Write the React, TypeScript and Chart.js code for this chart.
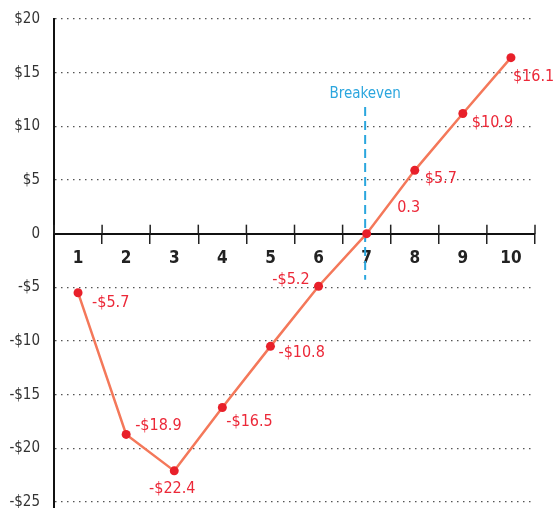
import React, { useEffect, useRef } from "react";
import { Chart, registerables } from "chart.js";

Chart.register(...registerables);

const categories = ["1", "2", "3", "4", "5", "6", "7", "8", "9", "10"];
const values = [-5.5, -18.7, -22.1, -16.2, -10.5, -4.9, 0, 5.9, 11.2, 16.4];
const pointLabels = ["-$5.7", "-$18.9", "-$22.4", "-$16.5", "-$10.8", "-$5.2", "0.3", "$5.7", "$10.9", "$16.1"];
const yTicks = [20, 15, 10, 5, 0, -5, -10, -15, -20, -25];
const breakevenCategory = 6; // index of "7"
const breakevenRange = [-4.3, 11.8];
const breakevenText = "Breakeven";

// label placement relative to each point: [dx, dy, align]
const labelPlacement: [number, number, CanvasTextAlign][] = [
  [14, 10, "left"],
  [9, -9, "left"],
  [-2, 18, "center"],
  [4, 14, "left"],
  [8, 6, "left"],
  [-9, -6, "right"],
  [42, -26, "center"],
  [10, 9, "left"],
  [9, 9, "left"],
  [2, 19, "left"],
];

const FONT = "'Liberation Sans Narrow', 'DejaVu Sans Condensed', 'Roboto', sans-serif";

const fmt = (v: number) => (v === 0 ? "0" : v < 0 ? "-$" + Math.abs(v) : "$" + v);

const overlay = {
  id: "overlay",
  beforeDatasetsDraw(chart: any) {
    const { ctx, scales } = chart;
    const x = scales.x.getPixelForValue(breakevenCategory) - 1.5;
    const y1 = scales.y.getPixelForValue(breakevenRange[1]);
    const y2 = scales.y.getPixelForValue(breakevenRange[0]);
    ctx.save();
    ctx.strokeStyle = "#2ba6de";
    ctx.lineWidth = 2;
    ctx.setLineDash([9, 5]);
    ctx.beginPath();
    ctx.moveTo(x, y1);
    ctx.lineTo(x, y2);
    ctx.stroke();
    ctx.setLineDash([]);
    ctx.fillStyle = "#2ba6de";
    ctx.font = "15px " + FONT;
    ctx.textAlign = "center";
    ctx.textBaseline = "middle";
    ctx.fillText(breakevenText, x, y1 - 13);
    // upper halves of x-axis tick marks
    const y0 = scales.y.getPixelForValue(0);
    ctx.strokeStyle = "#222";
    ctx.lineWidth = 1.5;
    for (let i = 0; i <= categories.length; i++) {
      const px = scales.x.getPixelForValue(i - 0.5);
      ctx.beginPath();
      ctx.moveTo(px, y0 - 9);
      ctx.lineTo(px, y0);
      ctx.stroke();
    }
    // y axis line continues to the bottom edge
    ctx.strokeStyle = "#111";
    ctx.lineWidth = 2;
    ctx.beginPath();
    ctx.moveTo(scales.y.right, scales.y.bottom);
    ctx.lineTo(scales.y.right, chart.height);
    ctx.stroke();
    ctx.restore();
  },
  afterDatasetsDraw(chart: any) {
    const { ctx } = chart;
    const meta = chart.getDatasetMeta(0);
    ctx.save();
    ctx.fillStyle = "#ec2838";
    ctx.font = "16px " + FONT;
    ctx.textBaseline = "middle";
    meta.data.forEach((pt: any, i: number) => {
      const [dx, dy, align] = labelPlacement[i];
      ctx.textAlign = align;
      ctx.fillText(pointLabels[i], pt.x + dx, pt.y + dy);
    });
    ctx.restore();
  },
};

export default function App() {
  const ref = useRef<HTMLCanvasElement>(null);
  useEffect(() => {
    if (!ref.current) return;
    const chart = new Chart(ref.current, {
      type: "line",
      data: {
        labels: categories,
        datasets: [
          {
            data: values,
            borderColor: "#f4785a",
            borderWidth: 2.5,
            pointBackgroundColor: "#e8202a",
            pointBorderWidth: 0,
            pointRadius: 4.5,
            tension: 0,
          },
        ],
      },
      options: {
        animation: false,
        responsive: true,
        maintainAspectRatio: false,
        layout: { padding: { left: 0, top: 19, right: 23, bottom: 6 } },
        plugins: { legend: { display: false }, tooltip: { enabled: false } },
        scales: {
          x: {
            type: "category",
            offset: true,
            position: { y: 0 } as any,
            grid: {
              display: true,
              drawOnChartArea: false,
              drawTicks: true,
              tickLength: 9,
              offset: true,
              color: "#222",
              lineWidth: 1.5,
            },
            border: { display: true, color: "#111", width: 2 },
            ticks: {
              color: "#222",
              padding: 6,
              maxRotation: 0,
              font: { family: FONT, size: 17, weight: "bold" },
            },
          },
          y: {
            min: -25,
            max: 20,
            afterFit: (s: any) => {
              s.width = 54;
              s.paddingTop = 0;
              s.paddingBottom = 0;
            },
            afterBuildTicks: (s: any) => {
              s.ticks = yTicks.map((v) => ({ value: v }));
            },
            grid: { color: "#555", lineWidth: 1.3, drawTicks: false },
            border: { display: true, color: "#111", width: 2, dash: [1.5, 4.5] },
            ticks: {
              color: "#333",
              padding: 14,
              font: { family: FONT, size: 15 },
              callback: (v: any) => fmt(Number(v)),
            },
          },
        },
      },
      plugins: [overlay],
    });
    return () => chart.destroy();
  }, []);
  return (
    <div style={{ position: "fixed", left: 0, top: 0, width: 558, height: 508 }}>
      <canvas ref={ref} />
    </div>
  );
}
